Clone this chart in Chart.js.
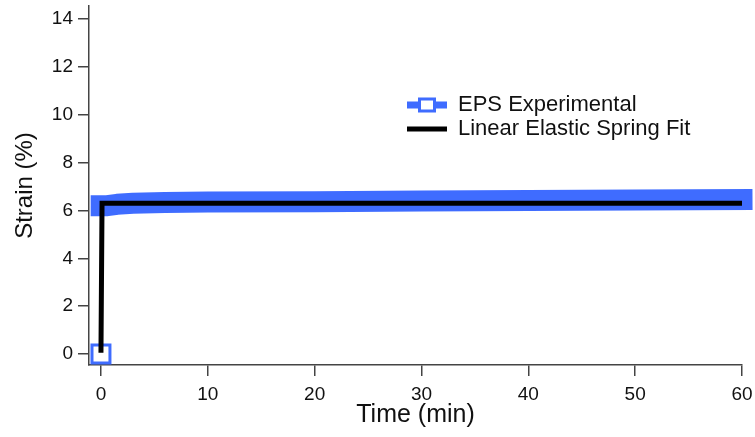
<!DOCTYPE html>
<html>
<head>
<meta charset="utf-8">
<script src="https://cdn.jsdelivr.net/npm/chart.js@4/dist/chart.umd.min.js"></script>
<style>
  html, body { margin: 0; padding: 0; background: #fff; }
  #wrap { width: 755px; height: 437px; position: relative; }
</style>
</head>
<body>
<div id="wrap"><canvas id="strainChart" width="755" height="437"></canvas></div>
<script>
// Data
const timeExp   = [0, 0.02, 0.6, 1.5, 3, 6, 10, 20, 30, 40, 50, 60];
const strainExp = [0, 6.2, 6.2, 6.26, 6.3, 6.33, 6.36, 6.37, 6.4, 6.42, 6.44, 6.46];
const timeFit   = [0, 0.1, 60];
const strainFit = [0.05, 6.3, 6.3];
const xTicks = [0, 10, 20, 30, 40, 50, 60];
const yTicks = [0, 2, 4, 6, 8, 10, 12, 14];
const seriesNames = ['EPS Experimental', 'Linear Elastic Spring Fit'];

const BLUE = '#3f6cff';
const AXIS = '#444444';
const FONT = '"Liberation Sans", Arial, sans-serif';

const toXY = (xs, ys) => xs.map((x, i) => ({ x: x, y: ys[i] }));

// legend drawn inside the plot area, like the original
const insideLegend = {
    id: 'insideLegend',
    afterDraw(chart) {
        const ctx = chart.ctx;
        const x0 = 407, x1 = 447, tx = 458;
        const rows = [105, 129];
        ctx.save();
        // blue line + square marker
        ctx.strokeStyle = BLUE;
        ctx.lineWidth = 7;
        ctx.beginPath();
        ctx.moveTo(x0, rows[0]);
        ctx.lineTo(x1, rows[0]);
        ctx.stroke();
        ctx.fillStyle = '#fff';
        ctx.lineWidth = 3;
        ctx.fillRect(419.5, rows[0] - 6, 15, 12);
        ctx.strokeRect(419.5, rows[0] - 6, 15, 12);
        // black line
        ctx.strokeStyle = '#000';
        ctx.lineWidth = 5;
        ctx.beginPath();
        ctx.moveTo(x0, rows[1]);
        ctx.lineTo(x1, rows[1]);
        ctx.stroke();
        // text
        ctx.fillStyle = '#111';
        ctx.font = '22px ' + FONT;
        ctx.textBaseline = 'middle';
        ctx.textAlign = 'left';
        ctx.fillText(seriesNames[0], tx, rows[0]);
        ctx.fillText(seriesNames[1], tx, rows[1]);
        ctx.restore();
    }
};

new Chart(document.getElementById('strainChart'), {
    type: 'line',
    data: {
        datasets: [{
            label: seriesNames[1],
            data: toXY(timeFit, strainFit),
            borderColor: '#000',
            borderWidth: 5,
            pointRadius: 0,
            tension: 0,
            order: 0,
            clip: false
        }, {
            label: seriesNames[0],
            data: toXY(timeExp, strainExp),
            borderColor: BLUE,
            borderWidth: 21,
            borderCapStyle: 'square',
            borderJoinStyle: 'round',
            pointStyle: 'rect',
            pointRadius: timeExp.map((t, i) => i === 0 ? 12.7 : 0),
            pointBorderWidth: 3,
            pointBorderColor: BLUE,
            pointBackgroundColor: '#fff',
            tension: 0,
            order: 1,
            clip: false,
            segment: {
                borderColor: c => c.p0DataIndex === 0 ? 'rgba(0,0,0,0)' : undefined
            }
        }]
    },
    options: {
        responsive: false,
        animation: false,
        layout: { autoPadding: false, padding: { top: 6, right: 13, left: 0, bottom: 0 } },
        plugins: {
            legend: { display: false },
            tooltip: { enabled: false }
        },
        scales: {
            x: {
                type: 'linear',
                min: -1.12,
                max: 60,
                afterBuildTicks: s => { s.ticks = xTicks.map(v => ({ value: v })); },
                afterFit: s => { s.height = 72; s.paddingLeft = 0; s.paddingRight = 0; },
                grid: { drawOnChartArea: false, drawTicks: true, tickLength: 11, color: AXIS, lineWidth: 1.5 },
                border: { display: true, color: AXIS, width: 1.5 },
                ticks: { color: '#111', padding: 7, maxRotation: 0, font: { family: FONT, size: 19 } },
                title: { display: true, text: 'Time (min)', color: '#111', padding: { top: 0, bottom: 7 }, font: { family: FONT, size: 25 } }
            },
            y: {
                type: 'linear',
                min: -0.46,
                max: 14.55,
                afterBuildTicks: s => { s.ticks = yTicks.map(v => ({ value: v })); },
                afterFit: s => { s.width = 89; s.paddingTop = 0; s.paddingBottom = 0; },
                grid: { drawOnChartArea: false, drawTicks: true, tickLength: 11, color: AXIS, lineWidth: 1.5 },
                border: { display: true, color: AXIS, width: 1.5 },
                ticks: { color: '#111', padding: 5, font: { family: FONT, size: 19 } },
                title: { display: true, text: 'Strain (%)', color: '#111', padding: { top: 11, bottom: 0 }, font: { family: FONT, size: 24 } }
            }
        }
    },
    plugins: [insideLegend]
});
</script>
</body>
</html>
